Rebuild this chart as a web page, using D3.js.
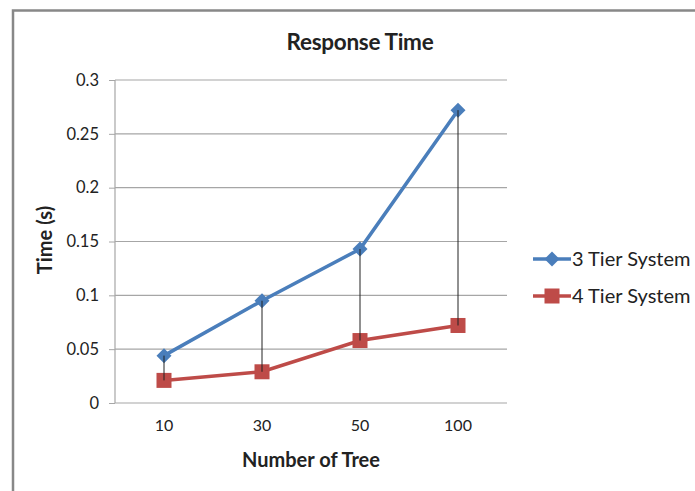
<!DOCTYPE html>
<html>
<head>
<meta charset="utf-8">
<script src="https://cdn.jsdelivr.net/npm/d3@7"></script>
<style>
  body { margin: 0; background: #fff; }
  text { font-family: Lato, "Open Sans", sans-serif; fill: #222; }
</style>
</head>
<body>
<div id="chart"></div>
<script>
const categories = ['10', '30', '50', '100'];
const tier3 = [0.044, 0.095, 0.143, 0.272];
const tier4 = [0.021, 0.029, 0.058, 0.072];
const yTicks = [0, 0.05, 0.1, 0.15, 0.2, 0.25, 0.3];
const seriesNames = ['3 Tier System', '4 Tier System'];

const width = 695, height = 491;
const svg = d3.select('#chart').append('svg')
    .attr('width', width)
    .attr('height', height);

// outer frame (only top and left visible)
svg.append('path')
    .attr('d', `M13,${height} V10.5 H${width}`)
    .attr('fill', 'none')
    .attr('stroke', '#888')
    .attr('stroke-width', 2.5);

const plot = { left: 115, right: 507, top: 80, bottom: 403 };

const x = d3.scaleBand()
    .domain(categories)
    .range([plot.left, plot.right]);

const y = d3.scaleLinear()
    .domain([0, 0.3])
    .range([plot.bottom, plot.top]);

// gridlines + y axis
const yAxis = svg.append('g')
    .attr('transform', `translate(${plot.left},0)`)
    .call(d3.axisLeft(y).tickValues(yTicks).tickFormat(d => String(+d.toFixed(2)))
        .tickSize(6).tickPadding(10));
yAxis.select('.domain').remove();
yAxis.selectAll('line').attr('stroke', '#a6a6a6');
yAxis.selectAll('text').style('font-size', '16.5px').attr('fill', '#222');

svg.append('g')
    .selectAll('line')
    .data(yTicks)
    .enter()
    .append('line')
        .attr('x1', plot.left)
        .attr('x2', plot.right)
        .attr('y1', d => y(d))
        .attr('y2', d => y(d))
        .attr('stroke', '#a6a6a6')
        .attr('stroke-width', 1.2);

svg.append('line')
    .attr('x1', plot.left).attr('x2', plot.left)
    .attr('y1', plot.top).attr('y2', plot.bottom)
    .attr('stroke', '#a6a6a6').attr('stroke-width', 1.2);

// x axis labels
const xAxis = svg.append('g')
    .attr('transform', `translate(0,${plot.bottom})`)
    .call(d3.axisBottom(x).tickSize(0).tickPadding(17));
xAxis.select('.domain').remove();
xAxis.selectAll('text').style('font-size', '16px').attr('fill', '#222');

const cx = d => x(d) + x.bandwidth() / 2;

const line = d3.line()
    .x((d, i) => cx(categories[i]))
    .y(d => y(d));

svg.append('path')
    .datum(tier4)
    .attr('d', line)
    .attr('fill', 'none')
    .attr('stroke', '#be4b48')
    .attr('stroke-width', 3.5);

svg.append('path')
    .datum(tier3)
    .attr('d', line)
    .attr('fill', 'none')
    .attr('stroke', '#4a7ebb')
    .attr('stroke-width', 3.5);

// markers
svg.append('g')
    .selectAll('rect')
    .data(tier4)
    .enter()
    .append('rect')
        .attr('x', (d, i) => cx(categories[i]) - 7.5)
        .attr('y', d => y(d) - 7.5)
        .attr('width', 15)
        .attr('height', 15)
        .attr('fill', '#be4b48');

const diamond = 'M0,-7.5L7.5,0L0,7.5L-7.5,0Z';
svg.append('g')
    .selectAll('path')
    .data(tier3)
    .enter()
    .append('path')
        .attr('d', diamond)
        .attr('transform', (d, i) => `translate(${cx(categories[i])},${y(d)})`)
        .attr('fill', '#4a7ebb');

// high-low lines
svg.append('g')
    .selectAll('line')
    .data(categories)
    .enter()
    .append('line')
        .attr('x1', d => cx(d))
        .attr('x2', d => cx(d))
        .attr('y1', (d, i) => y(tier3[i]))
        .attr('y2', (d, i) => y(tier4[i]))
        .attr('stroke', '#222')
        .attr('stroke-width', 1);

// titles
svg.append('text')
    .attr('x', 360).attr('y', 50)
    .attr('text-anchor', 'middle')
    .style('font-size', '22.5px').style('font-weight', 'bold')
    .style('letter-spacing', '-0.3px')
    .text('Response Time');

svg.append('text')
    .attr('x', 311).attr('y', 467)
    .attr('text-anchor', 'middle')
    .style('font-size', '20px').style('font-weight', 'bold')
    .text('Number of Tree');

svg.append('text')
    .attr('transform', 'translate(52,240) rotate(-90)')
    .attr('text-anchor', 'middle')
    .style('font-size', '20px').style('font-weight', 'bold')
    .text('Time (s)');

// legend
const legend = svg.append('g');
const legendY = [259, 296];
const legendColors = ['#4a7ebb', '#be4b48'];
seriesNames.forEach(function (name, i) {
    const g = legend.append('g').attr('transform', `translate(0,${legendY[i]})`);
    g.append('line')
        .attr('x1', 533).attr('x2', 571)
        .attr('stroke', legendColors[i]).attr('stroke-width', 3.5);
    if (i == 0) {
        g.append('path').attr('d', diamond).attr('transform', 'translate(552,0)').attr('fill', legendColors[i]);
    } else {
        g.append('rect').attr('x', 544.5).attr('y', -7.5).attr('width', 15).attr('height', 15).attr('fill', legendColors[i]);
    }
    g.append('text')
        .attr('x', 572).attr('y', 7)
        .style('font-size', '20px')
        .text(name);
});
</script>
</body>
</html>
